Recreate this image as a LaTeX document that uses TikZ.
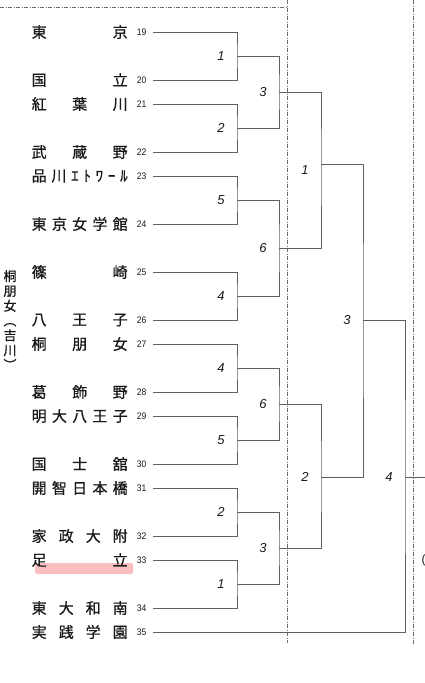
\documentclass[tikz,border=0pt]{standalone}
\usepackage{fontspec}
\newfontfamily\jp{Noto Sans CJK JP}[FakeBold=0.7]
\newfontfamily\lab{Liberation Sans}
\definecolor{linegray}{RGB}{95,95,95}
\definecolor{dashgray}{RGB}{110,110,110}
\definecolor{txt}{RGB}{25,25,25}
\definecolor{hl}{RGB}{245,170,170}
\begin{document}
\begin{tikzpicture}[x=1pt,y=-1pt,
  ln/.style={draw=linegray, line width=0.9pt},
  dd/.style={draw=dashgray, line width=0.6pt, dash pattern=on 4pt off 1.6pt on 0.8pt off 1.6pt},
  teamname/.style={anchor=west, inner sep=0pt, font=\jp\fontsize{15}{15}\selectfont, text=txt},
  teamnum/.style={anchor=east, inner sep=0pt, font=\lab\fontsize{9.5}{10}\selectfont, text=txt, xscale=0.9},
  rl/.style={inner sep=0pt, font=\lab\itshape\fontsize{13}{13}\selectfont, text=txt},
]
\useasboundingbox (0,0) rectangle (425,683);
\fill[white] (0,0) rectangle (425,683);

% dash-dot frame lines
\draw[dd] (0,7) -- (287,7);
\draw[dd] (287,0) -- (287,643);
\draw[dd] (413,0) -- (413,645);

% highlight under 足立
\fill[hl, opacity=0.75, rounded corners=2pt] (35,563) rectangle (133,574);

% teams
\foreach \n/\y/\t in {
  19/32/{東\hfill 京},
  20/80/{国\hfill 立},
  21/104/{紅\hfill 葉\hfill 川},
  22/152/{武\hfill 蔵\hfill 野},
  23/176/{品\hfill 川\hfill ｴ\hfill ﾄ\hfill ﾜ\hfill ｰ\hfill ﾙ},
  24/224/{東\hfill 京\hfill 女\hfill 学\hfill 館},
  25/272/{篠\hfill 崎},
  26/320/{八\hfill 王\hfill 子},
  27/344/{桐\hfill 朋\hfill 女},
  28/392/{葛\hfill 飾\hfill 野},
  29/416/{明\hfill 大\hfill 八\hfill 王\hfill 子},
  30/464/{国\hfill 士\hfill 舘},
  31/488/{開\hfill 智\hfill 日\hfill 本\hfill 橋},
  32/536/{家\hfill 政\hfill 大\hfill 附},
  33/560/{足\hfill 立},
  34/608/{東\hfill 大\hfill 和\hfill 南},
  35/632/{実\hfill 践\hfill 学\hfill 園}} {
  \node[teamname] (t\n) at (31.5,\y) {\makebox[96pt][s]{\t}};
  \node[teamnum] (n\n) at (146.5,\y) {\n};
  \coordinate (s\n) at (153,\y);
}

% vertical label
\node[inner sep=0pt, align=center, font=\jp\fontsize{13}{14.8}\selectfont, text=txt] (side) at (10,320)
  {桐\\朋\\女\\︵\\吉\\川\\︶};

% joints
\coordinate (A1) at (237,56);
\coordinate (A2) at (237,128);
\coordinate (A3) at (237,200);
\coordinate (A4) at (237,296);
\coordinate (A5) at (237,368);
\coordinate (A6) at (237,440);
\coordinate (A7) at (237,512);
\coordinate (A8) at (237,584);
\coordinate (B1) at (279,92);
\coordinate (B2) at (279,248);
\coordinate (B3) at (279,404);
\coordinate (B4) at (279,548);
\coordinate (C1) at (321,164);
\coordinate (C2) at (321,477);
\coordinate (D1) at (363,320);
\coordinate (E1) at (405,477);
\coordinate (F) at (426,477);

% first round
\draw[ln] (s19) -| (A1) |- (s20);
\draw[ln] (s21) -| (A2) |- (s22);
\draw[ln] (s23) -| (A3) |- (s24);
\draw[ln] (s25) -| (A4) |- (s26);
\draw[ln] (s27) -| (A5) |- (s28);
\draw[ln] (s29) -| (A6) |- (s30);
\draw[ln] (s31) -| (A7) |- (s32);
\draw[ln] (s33) -| (A8) |- (s34);
% second round
\draw[ln] (A1) -| (B1) |- (A2);
\draw[ln] (A3) -| (B2) |- (A4);
\draw[ln] (A5) -| (B3) |- (A6);
\draw[ln] (A7) -| (B4) |- (A8);
% third round
\draw[ln] (B1) -| (C1) |- (B2);
\draw[ln] (B3) -| (C2) |- (B4);
% fourth / fifth
\draw[ln] (C1) -| (D1) |- (C2);
\draw[ln] (D1) -| (E1) |- (s35);
\draw[ln] (E1) -- (F);

% round labels
\node[rl] (l1) at (221,56) {1};
\node[rl] (l2) at (221,128) {2};
\node[rl] (l3) at (221,200) {5};
\node[rl] (l4) at (221,296) {4};
\node[rl] (l5) at (221,368) {4};
\node[rl] (l6) at (221,440) {5};
\node[rl] (l7) at (221,512) {2};
\node[rl] (l8) at (221,584) {1};
\node[rl] (m1) at (263,92) {3};
\node[rl] (m2) at (263,248) {6};
\node[rl] (m3) at (263,404) {6};
\node[rl] (m4) at (263,548) {3};
\node[rl] (q1) at (305,170) {1};
\node[rl] (q2) at (305,477) {2};
\node[rl] (h1) at (347,320) {3};
\node[rl] (f1) at (389,477) {4};

% cut-off glyph at right edge
\node[anchor=west, inner sep=0pt, font=\lab\fontsize{12}{12}\selectfont, text=txt] (cut) at (421.5,560) {(};
\end{tikzpicture}
\end{document}
